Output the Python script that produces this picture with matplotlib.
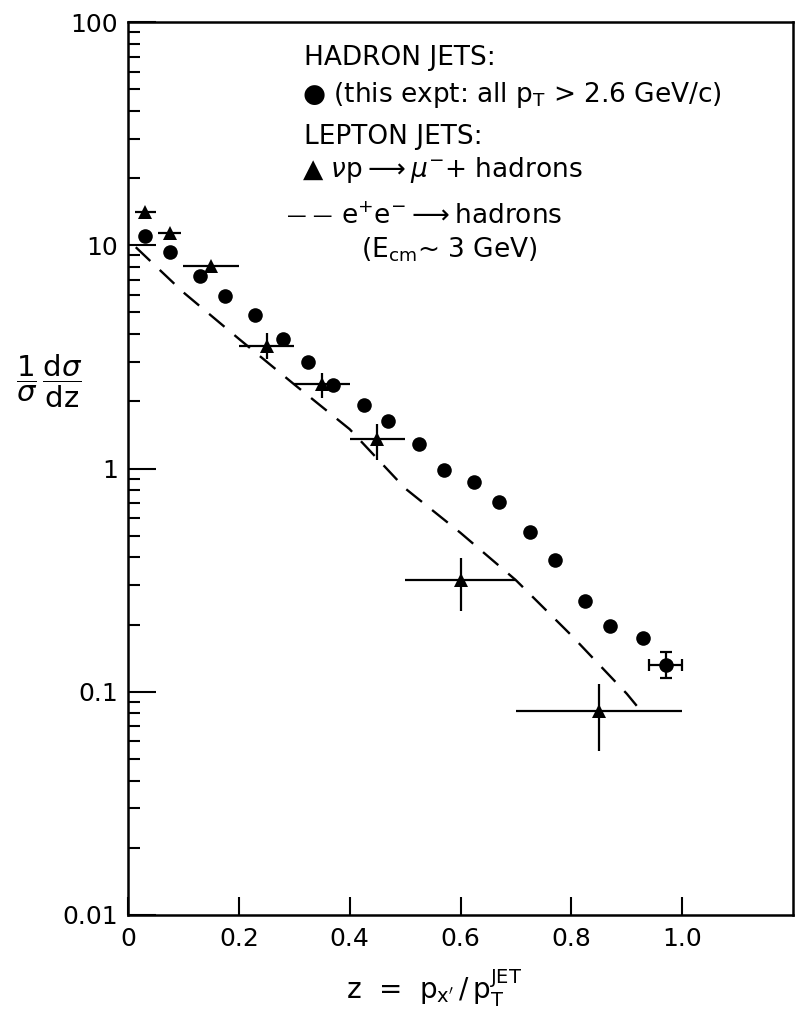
import numpy as np
import matplotlib
matplotlib.use("Agg")
from matplotlib import pyplot as plt
from matplotlib.ticker import FixedLocator, FixedFormatter, NullFormatter

plt.rcParams['font.family'] = ['DejaVu Sans']
plt.rcParams['mathtext.fontset'] = 'dejavusans'

# hadron jets (this experiment)
had_z = [0.03, 0.075, 0.13, 0.175, 0.23, 0.28, 0.325, 0.37, 0.425, 0.47,
         0.525, 0.57, 0.625, 0.67, 0.725, 0.77, 0.825, 0.87, 0.93, 0.97]
had_y = [11.0, 9.3, 7.3, 5.9, 4.85, 3.8, 3.0, 2.36, 1.92, 1.63,
         1.29, 0.98, 0.87, 0.71, 0.52, 0.39, 0.256, 0.198, 0.174, 0.132]
# only the last hadron point carries visible error bars
had_last_xerr = 0.03
had_last_ylo = 0.115
had_last_yhi = 0.151

# lepton jets: nu p -> mu- + hadrons
lep_z = [0.03, 0.075, 0.15, 0.25, 0.35, 0.45, 0.60, 0.85]
lep_y = [14.1, 11.3, 8.1, 3.53, 2.38, 1.35, 0.318, 0.082]
lep_zlo = [0.012, 0.055, 0.10, 0.20, 0.30, 0.40, 0.50, 0.70]
lep_zhi = [0.05, 0.095, 0.20, 0.30, 0.40, 0.50, 0.70, 1.00]
lep_ylo = [14.1, 11.3, 8.1, 3.10, 2.07, 1.09, 0.231, 0.054]
lep_yhi = [14.1, 11.3, 8.1, 4.06, 2.69, 1.58, 0.396, 0.108]

# e+e- -> hadrons, E_cm ~ 3 GeV
ee_z = [0.014, 0.1, 0.2, 0.3, 0.4, 0.5, 0.6, 0.7, 0.8, 0.9, 0.918]
ee_y = [9.8, 6.15, 3.81, 2.38, 1.50, 0.815, 0.515, 0.316, 0.179, 0.098, 0.0865]

x_ticks = [0, 0.2, 0.4, 0.6, 0.8, 1.0]
x_labels = ["0", "0.2", "0.4", "0.6", "0.8", "1.0"]
y_ticks = [0.01, 0.1, 1, 10, 100]
y_labels = ["0.01", "0.1", "1", "10", "100"]


def main():
    fig = plt.figure(figsize=(7.95, 10.15), dpi=100)
    ax = fig.add_axes([128 / 795, 1 - 915 / 1015, 665 / 795, 893 / 1015])
    ax.set_yscale('log')
    ax.set_xlim(0, 1.2)
    ax.set_ylim(0.01, 100)

    ink = 'black'
    ax.plot(ee_z, ee_y, color=ink, lw=1.7, dashes=(8.5, 5.5),
            dash_capstyle='butt')

    ax.plot(had_z, had_y, 'o', color=ink, ms=10.5, mew=0)
    ax.errorbar([had_z[-1]], [had_y[-1]], xerr=had_last_xerr,
                yerr=[[had_y[-1] - had_last_ylo], [had_last_yhi - had_y[-1]]],
                fmt='none', ecolor=ink, elinewidth=1.6, capsize=4.5,
                capthick=1.6)

    lz = np.array(lep_z)
    ly = np.array(lep_y)
    xerr = [lz - np.array(lep_zlo), np.array(lep_zhi) - lz]
    yerr = [ly - np.array(lep_ylo), np.array(lep_yhi) - ly]
    ax.errorbar(lz, ly, xerr=xerr, yerr=yerr, fmt='^', color=ink, ms=10.5,
                mew=0, ecolor=ink, elinewidth=1.6, capsize=4.5, capthick=1.6)

    for side in ax.spines.values():
        side.set_linewidth(1.8)

    ax.xaxis.set_major_locator(FixedLocator(x_ticks))
    ax.xaxis.set_major_formatter(FixedFormatter(x_labels))
    ax.tick_params(axis='x', which='major', direction='in', length=13,
                   width=1.5, labelsize=18, pad=9)

    ax.yaxis.set_major_locator(FixedLocator(y_ticks))
    ax.yaxis.set_major_formatter(FixedFormatter(y_labels))
    minors = [m * 10.0 ** e for e in range(-2, 2) for m in range(2, 10)]
    ax.yaxis.set_minor_locator(FixedLocator(minors))
    ax.yaxis.set_minor_formatter(NullFormatter())
    ax.tick_params(axis='y', which='major', direction='in', length=20,
                   width=1.5, labelsize=18, pad=7)
    ax.tick_params(axis='y', which='minor', direction='in', length=8.5,
                   width=1.5)
    # the 5x ticks are drawn a bit longer
    for t in ax.yaxis.get_minor_ticks():
        if abs(np.log10(t.get_loc()) % 1 - np.log10(5)) < 1e-6:
            t.tick1line.set_markersize(14)

    ax.set_xlabel(r"z  =  p$_{\mathrm{x}'}\,/\,$p$_{\mathrm{T}}^{\mathrm{JET}}$",
                  fontsize=20, va='center')
    ax.xaxis.set_label_coords(0.46, -0.082)
    ax.set_ylabel(r"$\dfrac{\mathrm{1}}{\sigma}\,\dfrac{\mathrm{d}\sigma}{\mathrm{dz}}$",
                  fontsize=21, rotation=0, va='center', ha='center')
    ax.yaxis.set_label_coords(-0.118, 0.598)

    fs = 19
    tr = ax.transAxes
    ax.text(0.265, 0.960, "HADRON JETS:", transform=tr, fontsize=fs,
            va='center')
    ax.text(0.262, 0.918, "● (this expt: all p$_{\\mathrm{T}}$ > 2.6 GeV/c)",
            transform=tr, fontsize=fs, va='center')
    ax.text(0.265, 0.871, "LEPTON JETS:", transform=tr, fontsize=fs,
            va='center')
    ax.text(0.262, 0.834, "▲ $\\nu$p$\\longrightarrow$$\\mu^{-}$+ hadrons",
            transform=tr, fontsize=fs, va='center')
    ax.text(0.239, 0.782, "— —", transform=tr, fontsize=14, va='center')
    ax.text(0.320, 0.782, "e$^{+}$e$^{-}$$\\longrightarrow$hadrons",
            transform=tr, fontsize=fs, va='center')
    ax.text(0.351, 0.745, "(E$_{\\mathrm{cm}}$~ 3 GeV)", transform=tr,
            fontsize=fs, va='center')

    fig.savefig("out.png", dpi=100)


if __name__ == '__main__':
    main()
